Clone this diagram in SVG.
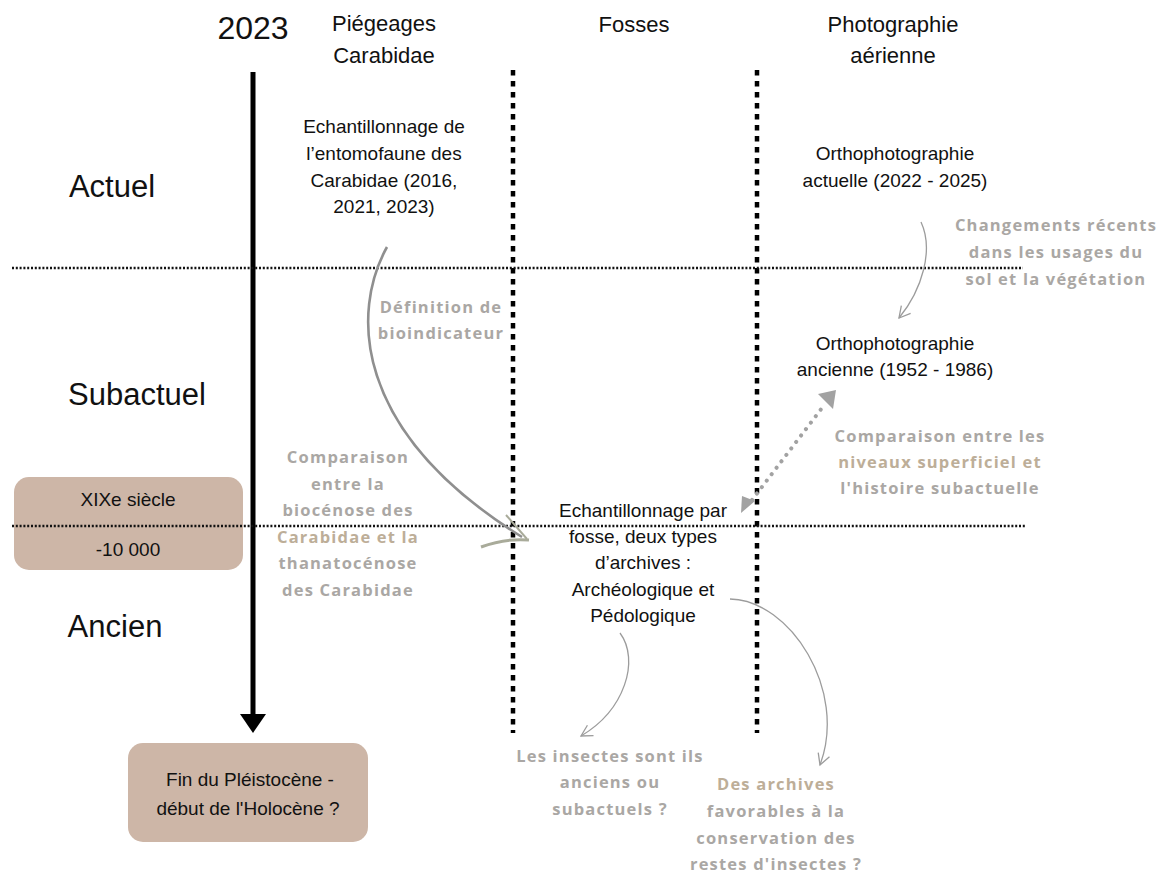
<svg xmlns="http://www.w3.org/2000/svg" width="1167" height="874" viewBox="0 0 1167 874">
<defs>
<style>
.t{font-family:"Liberation Sans",Arial,sans-serif;fill:#111;text-anchor:middle}
.body{font-size:19px}
.big{font-size:31px}
.hdr{font-size:22px}
.g{font-family:"Open Sans","DejaVu Sans",sans-serif;font-weight:700;font-size:16.5px;letter-spacing:1.2px;fill:#aaa7a4;text-anchor:middle}
.tan{fill:#bdae98}
.vdot{stroke:#000;stroke-width:4.5;stroke-dasharray:5.5 5.5;fill:none}
.hdot{stroke:#111;stroke-width:2.4;stroke-dasharray:2 1.8;fill:none}
.box{fill:#cdb6a7}
.thin{fill:none;stroke:#9c9c9c;stroke-width:1.3}
</style>
<marker id="v" viewBox="0 0 14 14" refX="12" refY="7" markerWidth="14" markerHeight="14" markerUnits="userSpaceOnUse" orient="auto">
<path d="M1 1 L12 7 L1 13" fill="none" stroke="#9c9c9c" stroke-width="1.3"/>
</marker>
</defs>
<rect width="1167" height="874" fill="#fff"/>

<g id="box-xix">
<rect class="box" x="14" y="477" width="229" height="93" rx="15"/>
<text class="t body" x="128" y="506">XIXe siècle</text>
<text class="t body" x="128" y="556">-10 000</text>
</g>
<g id="box-fin">
<rect class="box" x="128" y="743" width="240" height="99" rx="15"/>
<text class="t body" x="250" y="786">Fin du Pléistocène -</text>
<text class="t body" x="248" y="815">début de l'Holocène ?</text>
</g>

<g id="grid">
<line x1="253" y1="72" x2="253" y2="716" stroke="#000" stroke-width="5"/>
<polygon points="240,714 266,714 253,733" fill="#000"/>
<line class="vdot" x1="513" y1="70" x2="513" y2="733"/>
<line class="vdot" x1="757" y1="70" x2="757" y2="733"/>
<line class="hdot" x1="12" y1="268" x2="1023" y2="268"/>
<line class="hdot" x1="12" y1="526" x2="1025" y2="526"/>
</g>

<g id="header-2023"><text class="t" style="font-size:32px" x="253" y="39">2023</text></g>
<g id="header-piegeages">
<text class="t hdr" x="384" y="31">Piégeages</text>
<text class="t hdr" x="384" y="63">Carabidae</text>
</g>
<g id="header-fosses"><text class="t hdr" x="634" y="32">Fosses</text></g>
<g id="header-photo">
<text class="t hdr" x="893" y="32">Photographie</text>
<text class="t hdr" x="893" y="63">aérienne</text>
</g>

<g id="period-actuel"><text class="t big" x="112" y="197">Actuel</text></g>
<g id="period-subactuel"><text class="t big" x="137" y="405">Subactuel</text></g>
<g id="period-ancien"><text class="t big" x="115" y="637">Ancien</text></g>

<g id="n-carabidae">
<text class="t body" x="384" y="133">Echantillonnage de</text>
<text class="t body" x="384" y="160">l’entomofaune des</text>
<text class="t body" x="384" y="187">Carabidae (2016,</text>
<text class="t body" x="384" y="213">2021, 2023)</text>
</g>
<g id="n-ortho-actuelle">
<text class="t body" x="895" y="160">Orthophotographie</text>
<text class="t body" x="895" y="187">actuelle (2022 - 2025)</text>
</g>
<g id="n-ortho-ancienne">
<text class="t body" x="895" y="350">Orthophotographie</text>
<text class="t body" x="895" y="376">ancienne (1952 - 1986)</text>
</g>
<g id="n-fosse">
<text class="t body" x="643" y="517">Echantillonnage par</text>
<text class="t body" x="643" y="543">fosse, deux types</text>
<text class="t body" x="643" y="569">d’archives :</text>
<text class="t body" x="643" y="596">Archéologique et</text>
<text class="t body" x="643" y="622">Pédologique</text>
</g>

<g id="lbl-bioind">
<text class="g" x="441" y="313">Définition de</text>
<text class="g" x="441" y="339">bioindicateur</text>
</g>
<g id="lbl-comp-carab">
<text class="g" x="348" y="463">Comparaison</text>
<text class="g" x="348" y="490">entre la</text>
<text class="g" x="348" y="516">biocénose des</text>
<text class="g tan" x="348" y="543">Carabidae et la</text>
<text class="g" x="348" y="569">thanatocénose</text>
<text class="g" x="348" y="596">des Carabidae</text>
</g>
<g id="lbl-changements">
<text class="g" x="1056" y="231">Changements récents</text>
<text class="g" x="1056" y="258">dans les usages du</text>
<text class="g" x="1056" y="285">sol et la végétation</text>
</g>
<g id="lbl-comp-niveaux">
<text class="g" x="940" y="442">Comparaison entre les</text>
<text class="g tan" x="940" y="468">niveaux superficiel et</text>
<text class="g" x="940" y="494">l'histoire subactuelle</text>
</g>
<g id="lbl-insectes">
<text class="g" x="610" y="762">Les insectes sont ils</text>
<text class="g" x="610" y="788">anciens ou</text>
<text class="g" x="610" y="815">subactuels ?</text>
</g>
<g id="lbl-archives">
<text class="g tan" x="776" y="790">Des archives</text>
<text class="g" x="776" y="817">favorables à la</text>
<text class="g" x="776" y="844">conservation des</text>
<text class="g" x="776" y="870">restes d'insectes ?</text>
</g>

<g id="connectors">
<path d="M387 247 C352 310 350 430 522 537" fill="none" stroke="#8f8f8f" stroke-width="2.6"/>
<path d="M506 515 L527 539" fill="none" stroke="#a9ab9a" stroke-width="2"/>
<path d="M481 547 Q505 538 529 540" fill="none" stroke="#a9ab9a" stroke-width="3"/>
<path class="thin" d="M921 222 C934 250 922 290 899 318" marker-end="url(#v)"/>
<line x1="752" y1="500" x2="825" y2="404" stroke="#a2a2a2" stroke-width="4" stroke-linecap="round" stroke-dasharray="0.1 8"/>
<polygon points="836,390 818,394 833,409" fill="#a2a2a2"/>
<polygon points="741,513 742,496 755,501" fill="#a2a2a2"/>
<path class="thin" d="M620 633 C640 660 625 710 581 736" marker-end="url(#v)"/>
<path class="thin" d="M730 599 C790 600 848 690 820 765" marker-end="url(#v)"/>
</g>
</svg>
